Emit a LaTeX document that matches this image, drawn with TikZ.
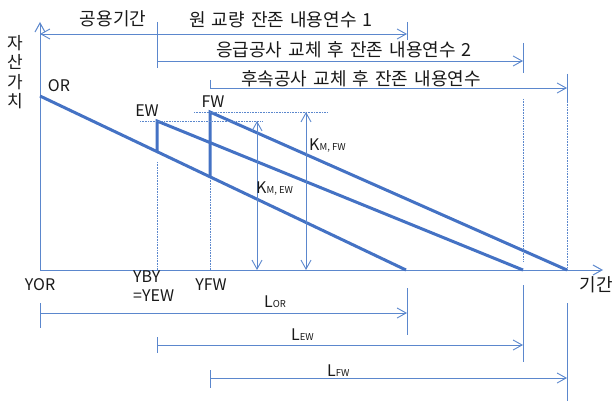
\documentclass[tikz,border=0pt]{standalone}
\usepackage{fontspec}
\setmainfont{Noto Sans CJK KR}
\newfontfamily\korfont[WordSpace=1.5]{Noto Sans CJK KR}
\usetikzlibrary{arrows.meta}
\definecolor{thk}{HTML}{4472C4}
\definecolor{thn}{HTML}{5B87CD}
\newcommand{\smsub}[1]{{\fontsize{9.5}{10}\selectfont #1}}

\begin{document}
\begin{tikzpicture}[x=1pt, y=-1pt, font=\fontsize{16}{19}\selectfont,
  >={Straight Barb[length=9pt,width=10pt]},
  ax/.style={thn, line width=1pt},
  crv/.style={thk, line width=3pt},
  dim/.style={thn, line width=0.9pt},
  dot/.style={thn, line width=0.6pt, densely dotted},
  lbl/.style={inner sep=0pt, text=black!90},
  kor/.style={lbl, font=\korfont\fontsize{18}{19}\selectfont}]
\useasboundingbox (0,0) rectangle (615,401);
% axes
\coordinate (O) at (40,270);
\coordinate (ytop) at (40,22);
\coordinate (xend) at (603,270);
\draw[ax,->] (O) -- (ytop);
\draw[ax,->] (O) -- (xend);
\node[kor, align=center, font=\korfont\fontsize{17}{19.5}\selectfont] (yl) at (15,72) {자\\산\\가\\치};
\node[kor] (xl) at (596,285) {기간};
% asset value lines
\coordinate (OR) at (40,96);
\coordinate (ORe) at (406,270);
\coordinate (EWb) at (157,151.6);
\coordinate (EWt) at (157,121);
\coordinate (EWe) at (523,270);
\coordinate (FWb) at (210,176.8);
\coordinate (FWt) at (210,112);
\coordinate (FWe) at (567,270);
\draw[crv] (OR) -- (ORe);
\draw[crv] (EWb) -- (EWt) -- (EWe);
\draw[crv] (FWb) -- (FWt) -- (FWe);
\node[lbl] (ORl) at (59,86) {OR};
\node[lbl] (EWl) at (147,111) {EW};
\node[lbl] (FWl) at (213,102) {FW};
% guide lines
\draw[dot] (140,121) -- (263,121);
\draw[dot] (194,112) -- (328,112);
\draw[dot] (157,162) -- (157,270);
\draw[dot] (210,178) -- (210,270);
\draw[dot] (523,99) -- (523,262);
\draw[dot] (567,99) -- (567,270);
% K arrows
\coordinate (kEt) at (257,121);
\coordinate (kEb) at (257,270);
\coordinate (kFt) at (306,112);
\coordinate (kFb) at (306,270);
\draw[dim,<->] (kEt) -- (kEb);
\draw[dim,<->] (kFt) -- (kFb);
\node[lbl, anchor=base west] (kEl) at (256,193) {K\smsub{M, EW}};
\node[lbl, anchor=base west] (kFl) at (309,150) {K\smsub{M, FW}};
% top spans
\coordinate (t0) at (40,34);
\coordinate (t1) at (157,34);
\coordinate (t2) at (407,34);
\coordinate (u1) at (157,61);
\coordinate (u2) at (523,61);
\coordinate (v1) at (210,88);
\coordinate (v2) at (567,88);
\draw[dim] (157,22) -- (157,68);
\draw[dim] (407,22) -- (407,40);
\draw[dim] (523,43) -- (523,73);
\draw[dim] (210,80) -- (210,88);
\draw[dim] (567,74) -- (567,101);
\draw[dim,->] (t1) -- (t0);
\draw[dim,->] (t1) -- (t2);
\draw[dim,->] (u1) -- (u2);
\draw[dim,->] (v1) -- (v2);
\node[kor] (s0) at (113,19) {공용기간};
\node[kor] (s1) at (281,20) {원 교량 잔존 내용연수 1};
\node[kor] (s2) at (344,50) {응급공사 교체 후 잔존 내용연수 2};
\node[kor] (s3) at (361,79) {후속공사 교체 후 잔존 내용연수};
% year labels
\node[lbl] (yor) at (40,285) {YOR};
\node[lbl, align=left, anchor=west, font=\fontsize{16}{19}\selectfont] (yby) at (133,286) {YBY\\=YEW};
\node[lbl] (yfw) at (211,285) {YFW};
% bottom spans
\coordinate (l0) at (40,313);
\coordinate (l1) at (407,313);
\coordinate (m0) at (157,345);
\coordinate (m1) at (523,345);
\coordinate (n0) at (210,378);
\coordinate (n1) at (567,378);
\draw[dim] (40,303) -- (40,328);
\draw[dim] (407,288) -- (407,335);
\draw[dim] (157,337) -- (157,353);
\draw[dim] (523,285) -- (523,362);
\draw[dim] (210,370) -- (210,388);
\draw[dim] (567,303) -- (567,401);
\draw[dim,->] (l0) -- (l1);
\draw[dim,->] (m0) -- (m1);
\draw[dim,->] (n0) -- (n1);
\node[lbl, anchor=base west] (lor) at (264,307) {L\smsub{OR}};
\node[lbl, anchor=base west] (lew) at (291,340) {L\smsub{EW}};
\node[lbl, anchor=base west] (lfw) at (327,376) {L\smsub{FW}};
\end{tikzpicture}
\end{document}
